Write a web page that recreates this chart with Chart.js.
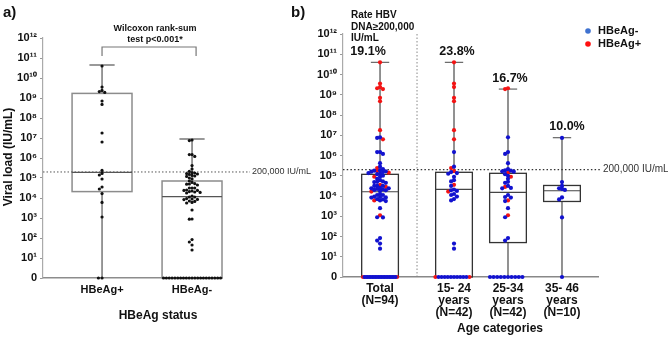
<!DOCTYPE html>
<html>
<head>
<meta charset="utf-8">
<script src="https://cdn.jsdelivr.net/npm/chart.js@4.4.1/dist/chart.umd.min.js"></script>
<style>
  body { margin: 0; background: #fff; }
  #wrap { position: relative; width: 668px; height: 338px; }
  canvas { position: absolute; left: 0; top: 0; }
</style>
</head>
<body>
<div id="wrap">
  <canvas id="chartA" width="668" height="338"></canvas>
  <canvas id="chartB" width="668" height="338"></canvas>
</div>
<script>
const FONT = "'Liberation Sans', Arial, sans-serif";

// viral load as log10(IU/mL), 0 = undetectable
const pos1524 = [10.6, 9.55, 9.38, 8.85, 8.68, 7.25, 6.8, 5.38, 5.23, 4.55, 4.22, 0, 0];
const neg1524 = [6.17, 5.45, 5.18, 5.13, 5.1, 4.95, 4.78, 4.72, 4.5, 4.32, 4.28, 4.25, 4.1, 4.05, 3.97, 3.85, 3.78, 1.65, 1.4,
                 0, 0, 0, 0, 0, 0, 0, 0, 0, 0];
const pos2534 = [9.32, 9.28, 5.15, 4.95, 4.45, 3.78, 3.05];
const neg2534 = [6.9, 6.17, 6.08, 5.62, 5.33, 5.27, 5.25, 5.22, 5.2, 5.08, 5.0, 4.85, 4.7, 4.65, 4.5, 4.4, 4.38, 4.05,
                 3.95, 3.92, 3.75, 3.4, 2.95, 1.92, 1.8, 0, 0, 0, 0, 0, 0, 0, 0, 0, 0];
const pos3546 = [];
const neg3546 = [6.87, 4.69, 4.5, 4.38, 4.35, 4.3, 3.93, 3.83, 2.94, 0];

const thresholdLog = 5.301; // 200,000 IU/mL

// panel a boxes: HBeAg+, HBeAg-
const catsA = ["HBeAg+", "HBeAg-"];
const minA = [0, 0];
const q1A = [4.32, 0];
const medA = [5.28, 4.07];
const q3A = [9.23, 4.85];
const maxA = [10.65, 6.95];

// panel b boxes: Total, 15-24, 25-34, 35-46
const catsB = [["Total", "(N=94)"], ["15- 24", "years", "(N=42)"], ["25-34", "years", "(N=42)"], ["35- 46", "years", "(N=10)"]];
const minB = [0, 0, 0, 0];
const q1B = [0, 0, 1.70, 3.73];
const medB = [4.21, 4.33, 4.18, 4.26];
const q3B = [5.07, 5.17, 5.12, 4.52];
const maxB = [10.6, 10.6, 9.28, 6.88];
const rateLabels = ["19.1%", "23.8%", "16.7%", "10.0%"];

const yTickLabels = ["0", "10¹", "10²", "10³", "10⁴", "10⁵", "10⁶", "10⁷", "10⁸", "10⁹", "10¹⁰", "10¹¹", "10¹²"];

// x layout
const xA = [1, 2];
const xB = [0.63, 2, 3, 4];

// simple beeswarm: horizontal offsets so dots don't pile up
function swarm(values, kinds, pxX, pxY, gap, zeroGap) {
  const items = values.map((v, i) => ({ v, k: kinds[i], dx: 0 }));
  const order = items.slice().sort((a, b) => b.v - a.v);
  const placed = [];
  order.forEach(p => {
    const g = p.v === 0 ? zeroGap : gap;
    const py = p.v * pxY;
    for (let n = 0; n < 300; n++) {
      const off = (n % 2 ? -1 : 1) * Math.ceil(n / 2) * g;
      if (placed.every(q => Math.hypot(q.off - off, q.py - py) >= g - 0.01)) {
        p.dx = off / pxX;
        placed.push({ off, py });
        break;
      }
    }
  });
  return items;
}

function zeroGapFor(values, boxPx, gap) {
  const n = values.filter(v => v === 0).length;
  return n > 1 ? Math.min(3.6, (boxPx - 3) / (n - 1)) : gap;
}

// ---------- panel a ----------
const allPos = [...pos1524, ...pos2534, ...pos3546];
const allNeg = [...neg1524, ...neg2534, ...neg3546];
const ptsA = [];
[allPos, allNeg].forEach((vals, i) => {
  const sw = swarm(vals, vals.map(() => 0), 90, 20, 2.7, zeroGapFor(vals, 60, 2.7));
  sw.forEach(p => ptsA.push({ x: xA[i] + p.dx, y: p.v }));
});

function drawBoxes(chart, o) {
  const { ctx, scales: { x, y } } = chart;
  ctx.save();
  o.pos.forEach((p, i) => {
    const xc = x.getPixelForValue(p);
    const xl = x.getPixelForValue(p - o.half), xr = x.getPixelForValue(p + o.half);
    const cl = x.getPixelForValue(p - o.cap), cr = x.getPixelForValue(p + o.cap);
    const yMin = y.getPixelForValue(o.min[i]), yMax = y.getPixelForValue(o.max[i]);
    const yQ1 = y.getPixelForValue(o.q1[i]), yQ3 = y.getPixelForValue(o.q3[i]);
    const yMed = y.getPixelForValue(o.med[i]);
    ctx.setLineDash([]);
    ctx.strokeStyle = o.whiskerColor; ctx.lineWidth = o.whiskerWidth;
    ctx.beginPath();
    ctx.moveTo(xc, yMax); ctx.lineTo(xc, yQ3);
    ctx.moveTo(xc, yQ1); ctx.lineTo(xc, yMin);
    ctx.stroke();
    ctx.strokeStyle = o.capColor; ctx.lineWidth = 1.2;
    ctx.beginPath(); ctx.moveTo(cl, yMax); ctx.lineTo(cr, yMax); ctx.stroke();
    ctx.strokeStyle = o.boxColor; ctx.lineWidth = o.boxWidth;
    ctx.strokeRect(xl, yQ3, xr - xl, yQ1 - yQ3);
    ctx.strokeStyle = o.medColor; ctx.lineWidth = 1.2;
    ctx.beginPath(); ctx.moveTo(xl, yMed); ctx.lineTo(xr, yMed); ctx.stroke();
  });
  ctx.restore();
}

function text(ctx, s, x, y, size, bold, align, color) {
  ctx.font = (bold ? "bold " : "") + size + "px " + FONT;
  ctx.textAlign = align || "left";
  ctx.textBaseline = "middle";
  ctx.fillStyle = color || "#111";
  ctx.fillText(s, x, y);
}

const decorA = {
  id: "decorA",
  beforeDatasetsDraw(chart) {
    drawBoxes(chart, {
      pos: xA, min: minA, q1: q1A, med: medA, q3: q3A, max: maxA,
      half: 0.333, cap: 0.14, whiskerColor: "#333", whiskerWidth: 1,
      capColor: "#555", boxColor: "#8c8c8c", boxWidth: 1.5, medColor: "#555"
    });
    const { ctx, chartArea: ca, scales: { y } } = chart;
    const ty = y.getPixelForValue(thresholdLog);
    ctx.save();
    ctx.setLineDash([1.5, 2]);
    ctx.strokeStyle = "#555"; ctx.lineWidth = 1;
    ctx.beginPath(); ctx.moveTo(ca.left, ty); ctx.lineTo(250, ty); ctx.stroke();
    ctx.restore();
  },
  afterDraw(chart) {
    const { ctx, scales: { x, y } } = chart;
    ctx.save();
    const ty = y.getPixelForValue(thresholdLog);
    text(ctx, "200,000 IU/mL", 252, ty, 9, false, "left", "#333");
    text(ctx, "a)", 3, 13, 15, true);
    text(ctx, "HBeAg status", 158, 316, 12, true, "center");
    text(ctx, "Wilcoxon rank-sum", 155, 29, 9, true, "center");
    text(ctx, "test p<0.001*", 155, 40, 9, true, "center");
    // bracket
    const bl = x.getPixelForValue(xA[0]), br = x.getPixelForValue(xA[1] + 0.045);
    ctx.strokeStyle = "#777"; ctx.lineWidth = 1.2;
    ctx.beginPath();
    ctx.moveTo(bl, 56); ctx.lineTo(bl, 47); ctx.lineTo(br, 47); ctx.lineTo(br, 56);
    ctx.stroke();
    // y title
    ctx.translate(9, 157);
    ctx.rotate(-Math.PI / 2);
    text(ctx, "Viral load (IU/mL)", 0, 0, 12, true, "center");
    ctx.restore();
  }
};

new Chart(document.getElementById("chartA"), {
  type: "scatter",
  data: {
    datasets: [{
      data: ptsA, backgroundColor: "#111", borderWidth: 0,
      pointRadius: 1.6, pointHoverRadius: 1.6, clip: false
    }]
  },
  options: {
    responsive: false, animation: false,
    layout: { padding: { left: 0, top: 38, right: 446, bottom: 0 } },
    plugins: { legend: { display: false }, tooltip: { enabled: false } },
    scales: {
      x: {
        type: "linear", min: 0.344, max: 2.333,
        afterFit: s => { s.height = 60; },
        afterBuildTicks: s => { s.ticks = xA.map(v => ({ value: v })); },
        grid: { display: false, drawTicks: false },
        border: { display: true, color: "#8c8c8c", width: 1.5 },
        ticks: { callback: (v, i) => catsA[i], color: "#111", padding: 5, maxRotation: 0,
                 font: { family: FONT, size: 11, weight: "bold" } }
      },
      y: {
        type: "linear", min: 0, max: 12,
        afterFit: s => { s.width = 43; },
        grid: { display: true, drawOnChartArea: false, drawTicks: true, tickLength: 3, color: "#999" },
        border: { display: true, color: "#aaa", width: 1.2 },
        ticks: { stepSize: 1, callback: v => yTickLabels[v], color: "#111", padding: 3,
                 font: { family: FONT, size: 11, weight: "bold" } }
      }
    }
  },
  plugins: [decorA]
});

// ---------- panel b ----------
const groupsB = [
  { pos: allPos, neg: allNeg },
  { pos: pos1524, neg: neg1524 },
  { pos: pos2534, neg: neg2534 },
  { pos: pos3546, neg: neg3546 }
];
const bluePts = [], redPts = [];
groupsB.forEach((g, i) => {
  const vals = [...g.neg, ...g.pos];
  const kinds = [...g.neg.map(() => "neg"), ...g.pos.map(() => "pos")];
  const sw = swarm(vals, kinds, 54, 20.2, 2.9, zeroGapFor(vals, 37, 2.9));
  sw.forEach(p => (p.k === "pos" ? redPts : bluePts).push({ x: xB[i] + p.dx, y: p.v }));
});

const decorB = {
  id: "decorB",
  beforeDatasetsDraw(chart) {
    const { ctx, chartArea: ca, scales: { x, y } } = chart;
    ctx.save();
    ctx.setLineDash([1.5, 2]);
    ctx.strokeStyle = "#888"; ctx.lineWidth = 1;
    const sx = x.getPixelForValue(1.315);
    ctx.beginPath(); ctx.moveTo(sx, ca.top); ctx.lineTo(sx, ca.bottom); ctx.stroke();
    ctx.restore();
    drawBoxes(chart, {
      pos: xB, min: minB, q1: q1B, med: medB, q3: q3B, max: maxB,
      half: 0.34, cap: 0.17, whiskerColor: "#777", whiskerWidth: 1.6,
      capColor: "#666", boxColor: "#333", boxWidth: 1.3, medColor: "#444"
    });
    const ty = y.getPixelForValue(thresholdLog);
    ctx.save();
    ctx.setLineDash([1.5, 2.2]);
    ctx.strokeStyle = "#333"; ctx.lineWidth = 1.2;
    ctx.beginPath(); ctx.moveTo(ca.left, ty); ctx.lineTo(600, ty); ctx.stroke();
    ctx.restore();
  },
  afterDraw(chart) {
    const { ctx, scales: { x, y } } = chart;
    ctx.save();
    text(ctx, "200,000 IU/mL", 603, y.getPixelForValue(thresholdLog), 10, false, "left", "#333");
    text(ctx, "b)", 291, 13, 15, true);
    text(ctx, "Rate HBV", 351, 15.5, 10, true);
    text(ctx, "DNA≥200,000", 351, 27, 10, true);
    text(ctx, "IU/mL", 351, 38.5, 10, true);
    const rateDx = [-12, 3, 2, 5];
    rateLabels.forEach((r, i) => {
      text(ctx, r, x.getPixelForValue(xB[i]) + rateDx[i], y.getPixelForValue(maxB[i]) - 11, 12.5, true, "center");
    });
    // legend
    ctx.fillStyle = "#3f72d0";
    ctx.beginPath(); ctx.arc(588, 31, 2.8, 0, Math.PI * 2); ctx.fill();
    ctx.fillStyle = "#ff1010";
    ctx.beginPath(); ctx.arc(588, 44, 2.8, 0, Math.PI * 2); ctx.fill();
    text(ctx, "HBeAg-", 598, 31, 11, true);
    text(ctx, "HBeAg+", 598, 44, 11, true);
    text(ctx, "Age categories", 500, 328.5, 12, true, "center");
    ctx.restore();
  }
};

new Chart(document.getElementById("chartB"), {
  type: "scatter",
  data: {
    datasets: [
      { label: "HBeAg-", data: bluePts, backgroundColor: "#1212cf", borderWidth: 0,
        pointRadius: 2.1, pointHoverRadius: 2.1, clip: false },
      { label: "HBeAg+", data: redPts, backgroundColor: "#f31414", borderWidth: 0,
        pointRadius: 2.1, pointHoverRadius: 2.1, clip: false }
    ]
  },
  options: {
    responsive: false, animation: false,
    layout: { padding: { left: 290, top: 34, right: 70, bottom: 0 } },
    plugins: { legend: { display: false }, tooltip: { enabled: false } },
    scales: {
      x: {
        type: "linear", min: -0.056, max: 4.667,
        afterFit: s => { s.height = 61; },
        afterBuildTicks: s => { s.ticks = xB.map(v => ({ value: v })); },
        grid: { display: false, drawTicks: false },
        border: { display: true, color: "#888", width: 1.5 },
        ticks: { callback: (v, i) => catsB[i], color: "#111", padding: 6, maxRotation: 0,
                 font: { family: FONT, size: 12, weight: "bold", lineHeight: 1.0 } }
      },
      y: {
        type: "linear", min: 0, max: 12,
        afterFit: s => { s.width = 53; },
        grid: { display: true, drawOnChartArea: false, drawTicks: true, tickLength: 3, color: "#999" },
        border: { display: true, color: "#aaa", width: 1.2 },
        ticks: { stepSize: 1, callback: v => yTickLabels[v], color: "#111", padding: 3,
                 font: { family: FONT, size: 11, weight: "bold" } }
      }
    }
  },
  plugins: [decorB]
});
</script>
</body>
</html>
